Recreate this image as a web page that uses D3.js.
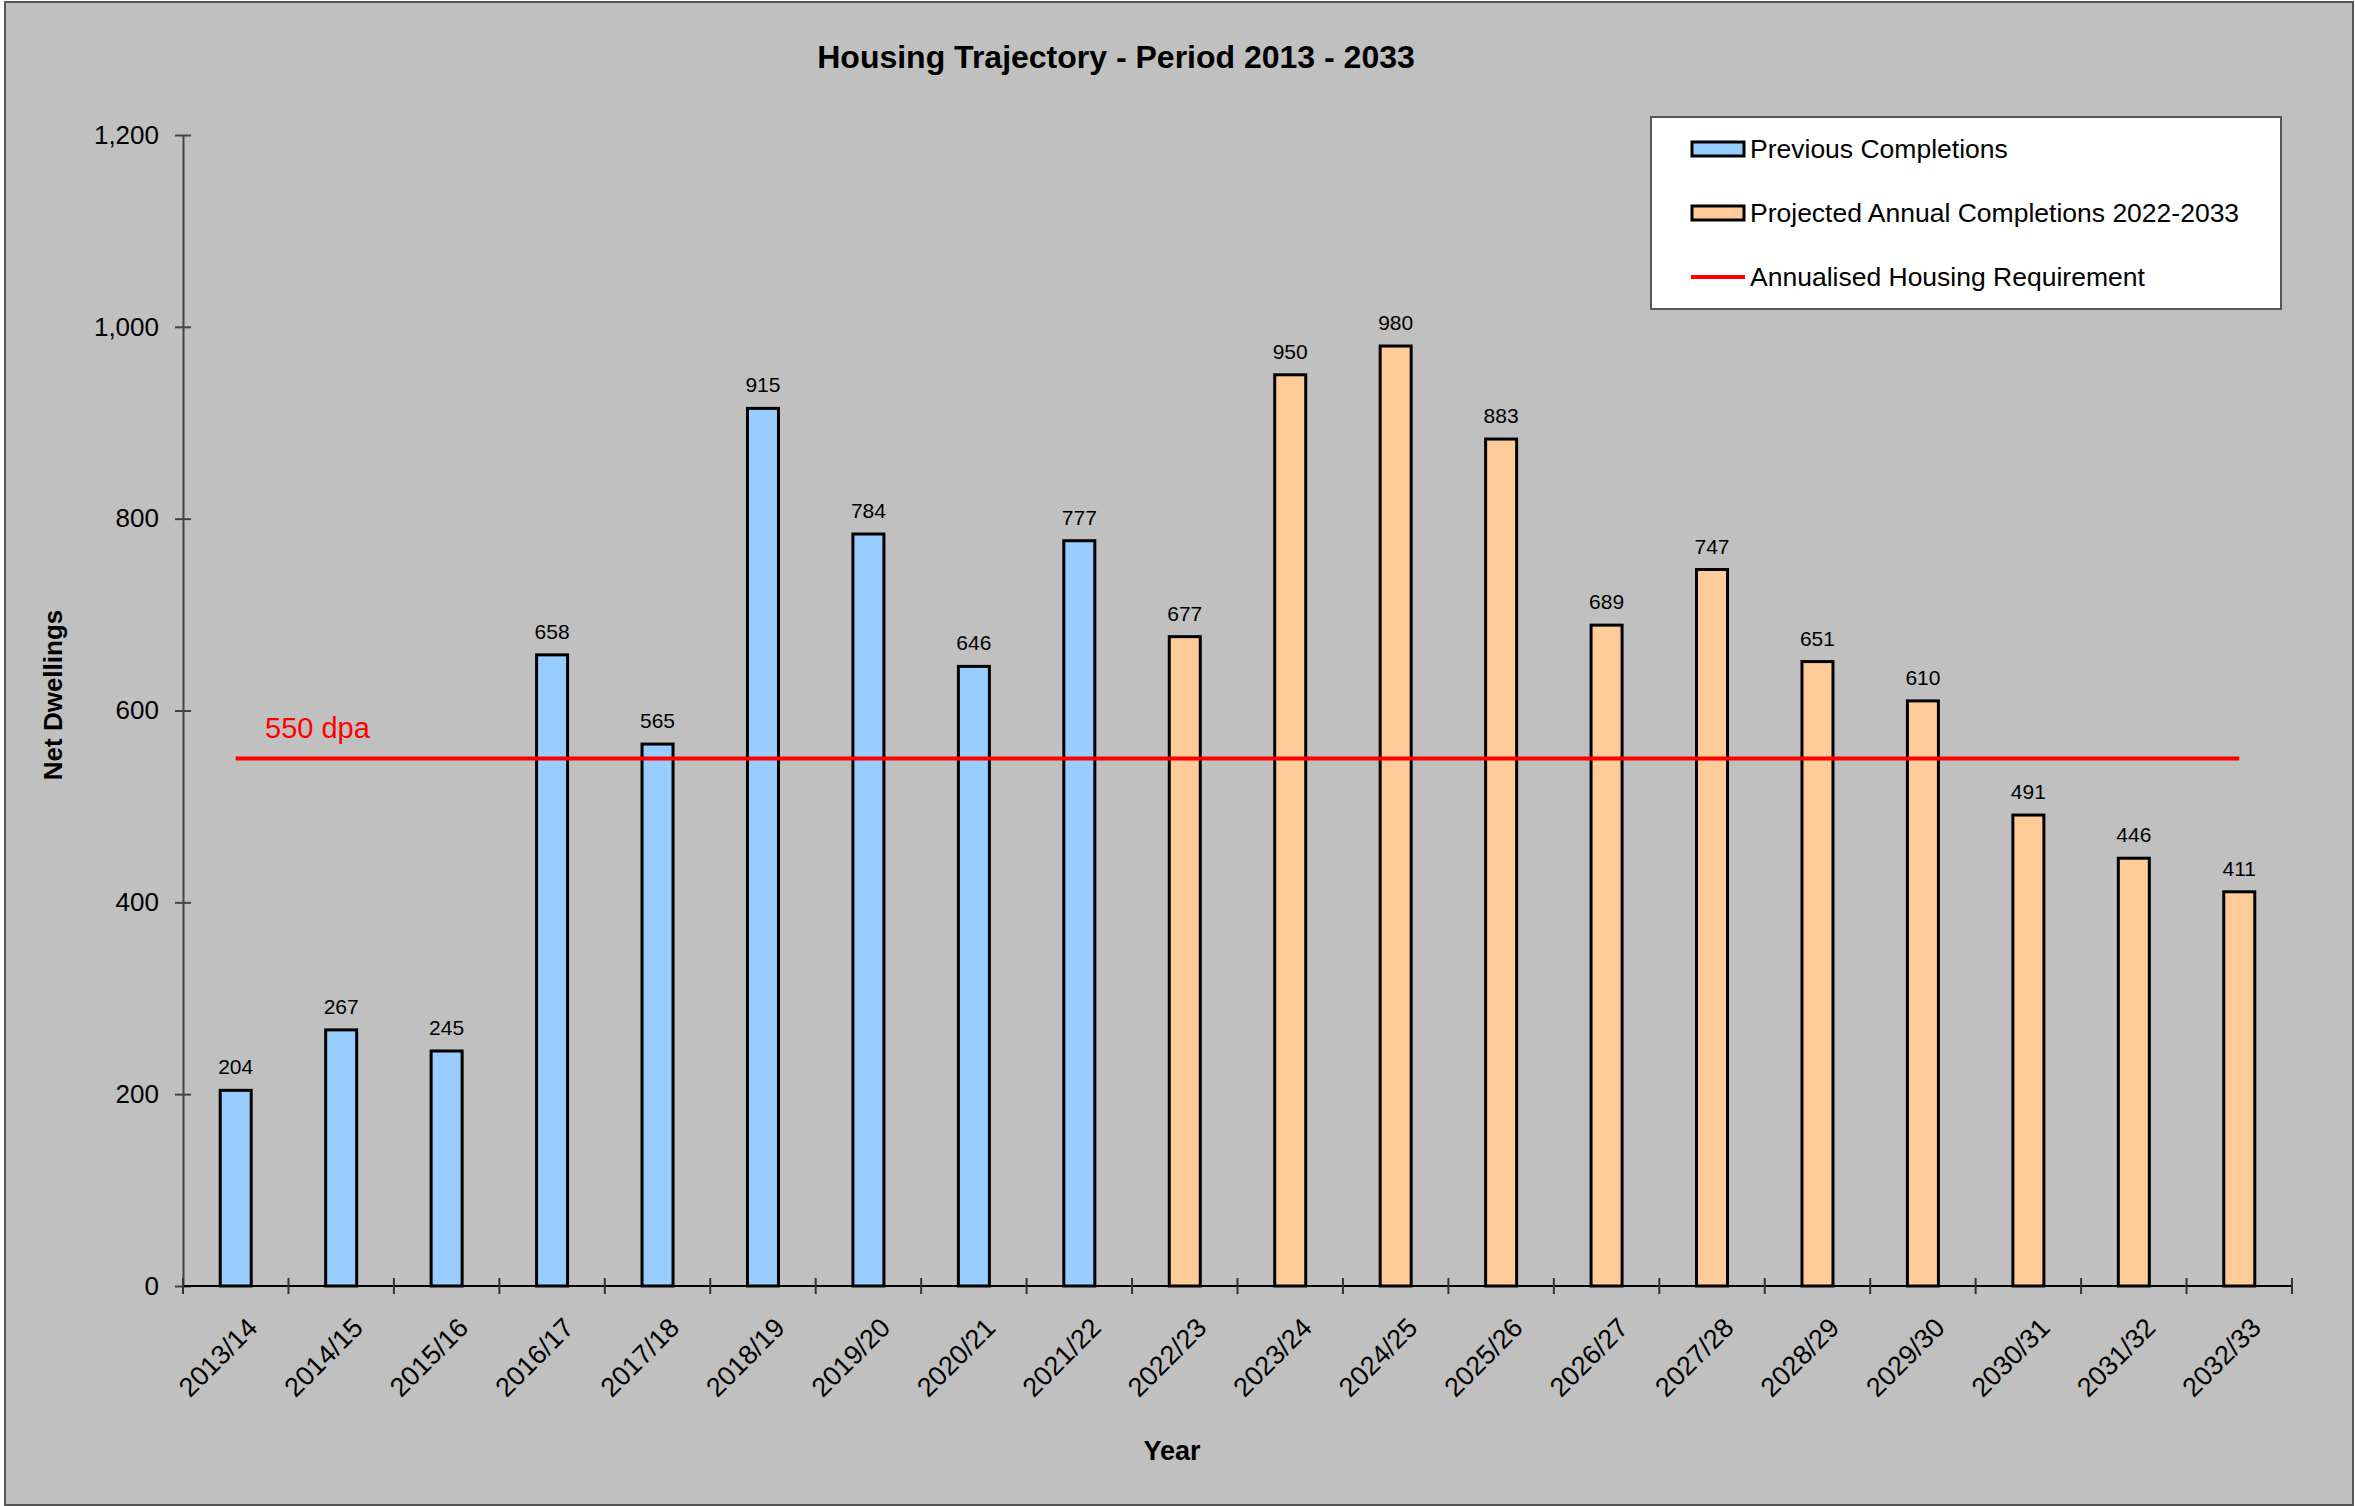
<!DOCTYPE html>
<html>
<head>
<meta charset="utf-8">
<script src="https://cdn.jsdelivr.net/npm/d3@7"></script>
<style>
body { margin: 0; background: #fff; }
text { font-family: "Liberation Sans", Arial, sans-serif; }
</style>
</head>
<body>
<svg id="chart" width="2355" height="1506"></svg>
<script>
var YEARS = ["2013/14", "2014/15", "2015/16", "2016/17", "2017/18", "2018/19", "2019/20", "2020/21", "2021/22",
    "2022/23", "2023/24", "2024/25", "2025/26", "2026/27", "2027/28", "2028/29", "2029/30", "2030/31", "2031/32", "2032/33"];
var COMPLETIONS = [204, 267, 245, 658, 565, 915, 784, 646, 777,
    677, 950, 980, 883, 689, 747, 651, 610, 491, 446, 411];
// first 9 years are completed, the rest projected
var SERIES = ["Previous Completions", "Projected Annual Completions 2022-2033"];
var PREVIOUS_COUNT = 9;
var REQUIREMENT = 550;
var REQ_LABEL = "550 dpa";
var Y_TICKS = [0, 200, 400, 600, 800, 1000, 1200];

var BLUE = "#99ccff";
var ORANGE = "#ffcc99";
var RED = "#ff0000";

var svg = d3.select("#chart");

var pLeft = 183, pRight = 2292, pTop = 135, pBottom = 1286;

// background frame
svg.append("rect").attr("x", 5).attr("y", 2).attr("width", 2348).attr("height", 1503)
    .attr("fill", "#c0c0c0").attr("stroke", "#555").attr("stroke-width", 2);

var x = d3.scaleBand().domain(YEARS).range([pLeft, pRight]).padding(0);
var y = d3.scaleLinear().domain([0, 1200]).range([pBottom, pTop]);

var barW = 31;

// bars
svg.append("g").selectAll("rect").data(YEARS).enter().append("rect")
    .attr("x", function (d) { return x(d) + x.bandwidth() / 2 - barW / 2; })
    .attr("y", function (d, i) { return y(COMPLETIONS[i]); })
    .attr("width", barW)
    .attr("height", function (d, i) { return y(0) - y(COMPLETIONS[i]); })
    .attr("fill", function (d, i) { return i < PREVIOUS_COUNT ? BLUE : ORANGE; })
    .attr("stroke", "#000").attr("stroke-width", 3);

// value labels
svg.append("g").selectAll("text").data(YEARS).enter().append("text")
    .attr("x", function (d) { return x(d) + x.bandwidth() / 2; })
    .attr("y", function (d, i) { return y(COMPLETIONS[i]) - 16; })
    .attr("text-anchor", "middle").attr("font-size", 21).attr("fill", "#000")
    .text(function (d, i) { return COMPLETIONS[i]; });

// requirement line
var first = YEARS[0], last = YEARS[YEARS.length - 1];
svg.append("line")
    .attr("x1", x(first) + x.bandwidth() / 2).attr("x2", x(last) + x.bandwidth() / 2)
    .attr("y1", y(REQUIREMENT)).attr("y2", y(REQUIREMENT))
    .attr("stroke", RED).attr("stroke-width", 4);
svg.append("text").attr("x", 265).attr("y", y(REQUIREMENT) - 20)
    .attr("font-size", 29).attr("fill", RED).text(REQ_LABEL);

// y axis
var yAxis = svg.append("g").attr("transform", "translate(" + pLeft + ",0)")
    .call(d3.axisLeft(y).tickValues(Y_TICKS).tickSizeInner(8).tickSizeOuter(0).tickPadding(16)
        .tickFormat(d3.format(",")));
yAxis.selectAll(".tick line").attr("x2", 8).attr("x1", -8).attr("stroke", "#444").attr("stroke-width", 2);
yAxis.select(".domain").attr("stroke", "#444").attr("stroke-width", 2);
yAxis.selectAll("text").attr("font-size", 26).attr("fill", "#000")
    .style("font-family", "Liberation Sans, Arial, sans-serif");

// x axis
var xAxis = svg.append("g").attr("transform", "translate(0," + pBottom + ")");
xAxis.append("line").attr("x1", pLeft).attr("x2", pRight).attr("stroke", "#000").attr("stroke-width", 2);
var bounds = YEARS.map(function (d) { return x(d); }).concat([pRight]);
xAxis.selectAll("line.tk").data(bounds).enter().append("line").attr("class", "tk")
    .attr("x1", function (d) { return d; }).attr("x2", function (d) { return d; })
    .attr("y1", -8).attr("y2", 8).attr("stroke", "#333").attr("stroke-width", 2);
xAxis.selectAll("text").data(YEARS).enter().append("text")
    .attr("transform", function (d) {
        return "translate(" + (x(d) + x.bandwidth() / 2 + 10) + ",30) rotate(-45)";
    })
    .attr("text-anchor", "end").attr("dy", "0.7em").attr("font-size", 27).attr("fill", "#000")
    .text(function (d) { return d; });

// titles
svg.append("text").attr("x", 1116).attr("y", 68).attr("text-anchor", "middle")
    .attr("font-size", 32).attr("font-weight", "bold").text("Housing Trajectory - Period 2013 - 2033");
svg.append("text").attr("transform", "translate(62,695) rotate(-90)").attr("text-anchor", "middle")
    .attr("font-size", 26).attr("font-weight", "bold").text("Net Dwellings");
svg.append("text").attr("x", 1172).attr("y", 1460).attr("text-anchor", "middle")
    .attr("font-size", 27).attr("font-weight", "bold").text("Year");

// legend
var lg = svg.append("g");
lg.append("rect").attr("x", 1651).attr("y", 117).attr("width", 630).attr("height", 192)
    .attr("fill", "#fff").attr("stroke", "#555").attr("stroke-width", 2);
var rows = [149, 213, 277];
[BLUE, ORANGE].forEach(function (c, i) {
    lg.append("rect").attr("x", 1692).attr("y", rows[i] - 7).attr("width", 52).attr("height", 14)
        .attr("fill", c).attr("stroke", "#000").attr("stroke-width", 3);
    lg.append("text").attr("x", 1750).attr("y", rows[i]).attr("dy", "0.35em")
        .attr("font-size", 26.5).text(SERIES[i]);
});
lg.append("line").attr("x1", 1691).attr("x2", 1745).attr("y1", rows[2]).attr("y2", rows[2])
    .attr("stroke", RED).attr("stroke-width", 4);
lg.append("text").attr("x", 1750).attr("y", rows[2]).attr("dy", "0.35em")
    .attr("font-size", 26.5).text("Annualised Housing Requirement");
</script>
</body>
</html>
